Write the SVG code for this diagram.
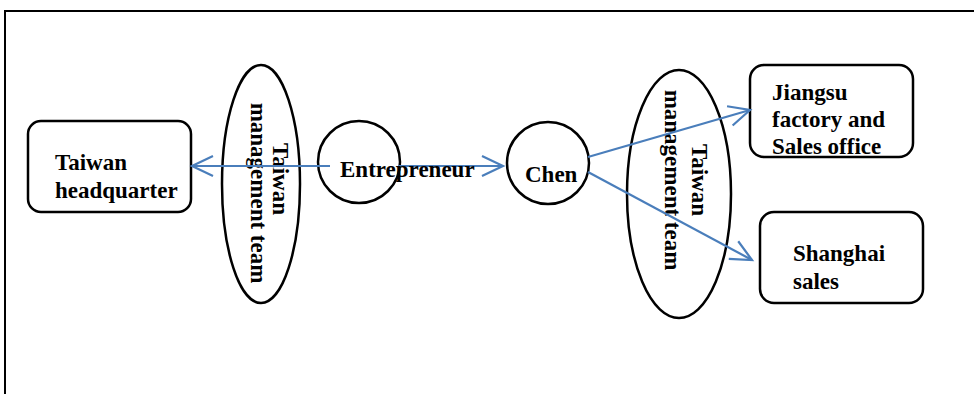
<svg xmlns="http://www.w3.org/2000/svg" width="974" height="394" viewBox="0 0 974 394">
<style>
.node{fill:#fff;stroke:#000;stroke-width:2.5}
.t{font-family:"Liberation Serif","Times New Roman",serif;font-weight:bold;font-size:23px;fill:#000}
.c{fill:none;stroke:#4a7ebb;stroke-width:2.2}
</style>
<defs>
<marker id="arr" markerUnits="userSpaceOnUse" markerWidth="30" markerHeight="30" refX="22" refY="11" orient="auto" viewBox="0 0 30 22">
<path d="M1,1 L22,11 L1,21" fill="none" stroke="#4a7ebb" stroke-width="2.2"/>
</marker>
</defs>
<rect width="974" height="394" fill="#fff"/>
<path d="M5,394 V11 H974" fill="none" stroke="#000" stroke-width="2"/>
<g id="taiwan-hq">
<rect class="node" x="28" y="121" width="163" height="91" rx="13"/>
<text class="t" x="55" y="170">Taiwan</text>
<text class="t" x="55" y="198">headquarter</text>
</g>
<g id="team-left">
<ellipse class="node" cx="261" cy="184" rx="39" ry="119"/>
<text class="t" text-anchor="middle" transform="translate(273,179) rotate(90)">Taiwan</text>
<text class="t" text-anchor="middle" transform="translate(251,193) rotate(90)">management team</text>
</g>
<g id="entrepreneur">
<circle class="node" cx="359" cy="162" r="41"/>
</g>
<g id="chen">
<circle class="node" cx="548" cy="163" r="41"/>
<text class="t" x="525" y="182">Chen</text>
</g>
<g id="team-right">
<ellipse class="node" cx="679" cy="194" rx="52" ry="124"/>
<text class="t" text-anchor="middle" transform="translate(692,180) rotate(90)">Taiwan</text>
<text class="t" text-anchor="middle" transform="translate(665,180) rotate(90)">management team</text>
</g>
<g id="jiangsu">
<rect class="node" x="750" y="65" width="163" height="92" rx="14"/>
<text class="t" x="772" y="100">Jiangsu</text>
<text class="t" x="772" y="127">factory and</text>
<text class="t" x="772" y="154">Sales office</text>
</g>
<g id="shanghai">
<rect class="node" x="760" y="212" width="163" height="91" rx="14"/>
<text class="t" x="793" y="261">Shanghai</text>
<text class="t" x="793" y="289">sales</text>
</g>
<g id="connectors">
<line class="c" x1="330" y1="166" x2="192" y2="166" marker-end="url(#arr)"/>
<line class="c" x1="398" y1="166" x2="503" y2="166" marker-end="url(#arr)"/>
<line class="c" x1="588" y1="157" x2="750" y2="110" marker-end="url(#arr)"/>
<line class="c" x1="588" y1="172" x2="752" y2="260" marker-end="url(#arr)"/>
</g>
<text class="t" x="340" y="177">Entrepreneur</text>
</svg>
